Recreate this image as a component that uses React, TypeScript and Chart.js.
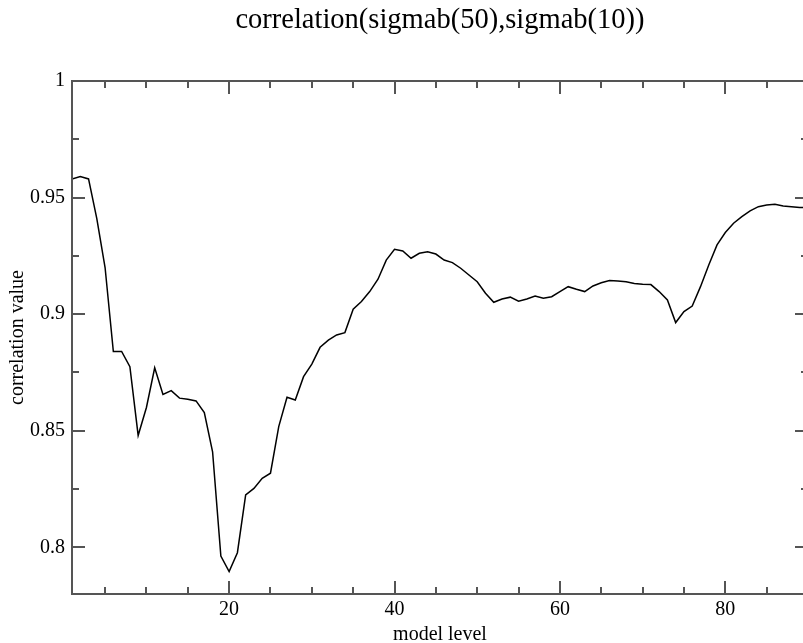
import React, { useEffect, useRef } from "react";
import { Chart, registerables } from "chart.js";

Chart.register(...registerables);

const chartTitle = "correlation(sigmab(50),sigmab(10))";
const xAxisTitle = "model level";
const yAxisTitle = "correlation value";

const modelLevels = [
  1, 2, 3, 4, 5, 6, 7, 8, 9, 10, 11, 12, 13, 14, 15, 16, 17, 18, 19, 20,
  21, 22, 23, 24, 25, 26, 27, 28, 29, 30, 31, 32, 33, 34, 35, 36, 37, 38, 39, 40,
  41, 42, 43, 44, 45, 46, 47, 48, 49, 50, 51, 52, 53, 54, 55, 56, 57, 58, 59, 60,
  61, 62, 63, 64, 65, 66, 67, 68, 69, 70, 71, 72, 73, 74, 75, 76, 77, 78, 79, 80,
  81, 82, 83, 84, 85, 86, 87, 88, 89, 90,
];

const correlationValues = [
  0.958, 0.959, 0.958, 0.941, 0.920, 0.884, 0.884, 0.8775, 0.848, 0.860,
  0.877, 0.8656, 0.8672, 0.864, 0.8635, 0.8628, 0.8578, 0.841, 0.7963, 0.7896,
  0.7977, 0.8225, 0.8253, 0.8296, 0.8318, 0.8518, 0.8644, 0.8632, 0.8732, 0.8786,
  0.8858, 0.8889, 0.8911, 0.8921, 0.9021, 0.9054, 0.9097, 0.915, 0.9232, 0.9278,
  0.9271, 0.924, 0.9261, 0.9268, 0.9258, 0.9232, 0.9221, 0.9197, 0.9168, 0.9139,
  0.909, 0.9051, 0.9065, 0.9073, 0.9056, 0.9065, 0.9078, 0.9068, 0.9075, 0.9097,
  0.9118, 0.9107, 0.9097, 0.9121, 0.9135, 0.9144, 0.9142, 0.9139, 0.9132, 0.9128,
  0.9127, 0.9097, 0.9061, 0.8964, 0.9011, 0.9035, 0.9118, 0.9211, 0.9297, 0.935,
  0.939, 0.9418, 0.9443, 0.9461, 0.9468, 0.9471, 0.9464, 0.9461, 0.9458, 0.9457,
];

const xMajorTicks = [20, 40, 60, 80];
const xMinorTicks = [5, 10, 15, 25, 30, 35, 45, 50, 55, 65, 70, 75, 85, 90];
const yMajorTicks = [0.8, 0.85, 0.9, 0.95, 1];
const yMinorTicks = [0.825, 0.875, 0.925, 0.975];
const yTickLabels = ["0.8", "0.85", "0.9", "0.95", "1"];

const FONT = "'Liberation Serif', 'Times New Roman', serif";

const framePlugin = {
  id: "graceFrame",
  afterDatasetsDraw(chart: any) {
    const { ctx, chartArea: a, scales } = chart;
    const xs = scales.x;
    const ys = scales.y;
    ctx.save();
    ctx.strokeStyle = "#555";
    ctx.lineWidth = 2;
    ctx.beginPath();
    const major = 13;
    const minor = 7;
    const vTick = (v: number, len: number) => {
      const px = Math.round(xs.getPixelForValue(v));
      ctx.moveTo(px, a.bottom);
      ctx.lineTo(px, a.bottom - len);
      ctx.moveTo(px, a.top);
      ctx.lineTo(px, a.top + len);
    };
    const hTick = (v: number, len: number) => {
      const py = Math.round(ys.getPixelForValue(v));
      ctx.moveTo(a.left, py);
      ctx.lineTo(a.left + len, py);
      ctx.moveTo(a.right, py);
      ctx.lineTo(a.right - len, py);
    };
    xMajorTicks.forEach((v) => vTick(v, major));
    xMinorTicks.forEach((v) => vTick(v, minor));
    yMajorTicks.forEach((v) => hTick(v, major));
    yMinorTicks.forEach((v) => hTick(v, minor));
    ctx.stroke();
    ctx.strokeRect(a.left, a.top, a.right - a.left, a.bottom - a.top);
    ctx.restore();
  },
};

export default function App() {
  const canvasRef = useRef<HTMLCanvasElement | null>(null);

  useEffect(() => {
    if (!canvasRef.current) return;
    const points = modelLevels.map((lv, i) => ({ x: lv, y: correlationValues[i] }));
    const chart = new Chart(canvasRef.current, {
      type: "line",
      data: {
        datasets: [
          {
            data: points,
            borderColor: "#000",
            borderWidth: 1.5,
            pointRadius: 0,
            tension: 0,
            fill: false,
          },
        ],
      },
      options: {
        animation: false,
        responsive: false,
        devicePixelRatio: 1,
        layout: { padding: { left: 0, right: 22, top: 0, bottom: 0 } },
        plugins: {
          legend: { display: false },
          tooltip: { enabled: false },
          title: {
            display: true,
            text: chartTitle,
            fullSize: false,
            color: "#000",
            font: { family: FONT, size: 28.5, weight: "normal", lineHeight: 1.2 },
            padding: { top: 3, bottom: 43.8 },
          },
        },
        scales: {
          x: {
            type: "linear",
            min: 1,
            max: 90,
            afterBuildTicks: (s: any) => {
              s.ticks = xMajorTicks.map((v) => ({ value: v }));
            },
            afterFit: (s: any) => {
              s.height = 49;
            },
            grid: { display: false, drawTicks: false },
            border: { display: false },
            ticks: {
              padding: 4,
              color: "#000",
              font: { family: FONT, size: 20 },
              maxRotation: 0,
              autoSkip: false,
              callback: (v: any) => String(v),
            },
            title: {
              display: true,
              text: xAxisTitle,
              color: "#000",
              font: { family: FONT, size: 20, lineHeight: 0.8 },
              padding: 0,
            },
          },
          y: {
            type: "linear",
            min: 0.78,
            max: 1,
            afterBuildTicks: (s: any) => {
              s.ticks = yMajorTicks.map((v) => ({ value: v }));
            },
            afterFit: (s: any) => {
              s.width = 72;
            },
            grid: { display: false, drawTicks: false },
            border: { display: false },
            ticks: {
              padding: 7,
              color: "#000",
              font: { family: FONT, size: 20 },
              autoSkip: false,
              callback: (v: any) => {
                const i = yMajorTicks.indexOf(Number(v));
                return i >= 0 ? yTickLabels[i] : String(v);
              },
            },
            title: {
              display: true,
              text: yAxisTitle,
              color: "#000",
              font: { family: FONT, size: 20, lineHeight: 1 },
              padding: { top: 7.5, bottom: 0 },
            },
          },
        },
      },
      plugins: [framePlugin],
    } as any);
    return () => chart.destroy();
  }, []);

  return (
    <div
      style={{
        position: "fixed",
        left: 0,
        top: 0,
        width: 803,
        height: 643,
        overflow: "hidden",
        background: "#fff",
      }}
    >
      <canvas ref={canvasRef} width={830} height={643} style={{ display: "block" }} />
    </div>
  );
}
